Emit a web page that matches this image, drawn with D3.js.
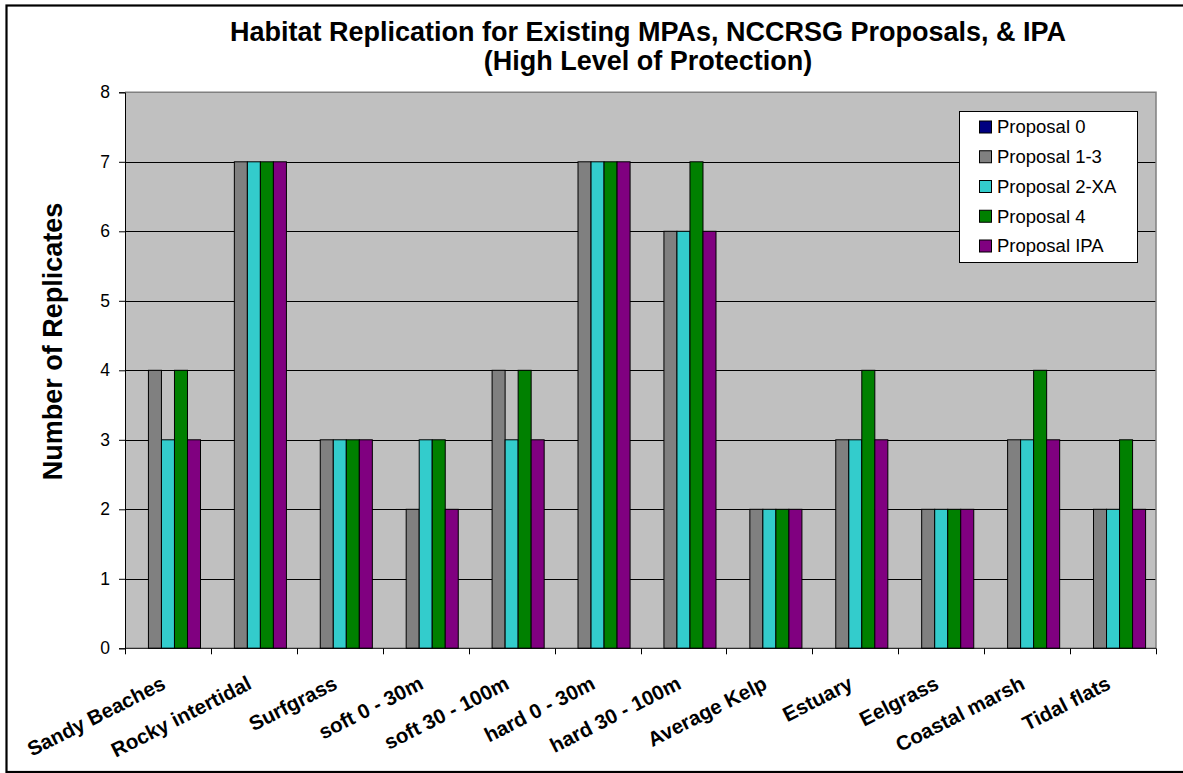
<!DOCTYPE html>
<html>
<head>
<meta charset="utf-8">
<script src="https://cdn.jsdelivr.net/npm/d3@7"></script>
<style>
  html, body { margin: 0; padding: 0; background: #fff; }
  svg { display: block; font-family: Arial, "Liberation Sans", sans-serif; }
</style>
</head>
<body>
<svg id="chart" width="1183" height="773"></svg>
<script>
// Habitat categories along the x axis
const categories = [
  "Sandy Beaches", "Rocky intertidal", "Surfgrass", "soft 0 - 30m",
  "soft 30 - 100m", "hard 0 - 30m", "hard 30 - 100m", "Average Kelp",
  "Estuary", "Eelgrass", "Coastal marsh", "Tidal flats"
];

// Series names (legend order)
const seriesNames = ["Proposal 0", "Proposal 1-3", "Proposal 2-XA", "Proposal 4", "Proposal IPA"];
const seriesColors = ["#000080", "#808080", "#33CCCC", "#008000", "#800080"];

// Number of replicates per habitat, one array per proposal
const proposal0   = [0, 0, 0, 0, 0, 0, 0, 0, 0, 0, 0, 0];
const proposal13  = [4, 7, 3, 2, 4, 7, 6, 2, 3, 2, 3, 2];
const proposal2XA = [3, 7, 3, 3, 3, 7, 6, 2, 3, 2, 3, 2];
const proposal4   = [4, 7, 3, 3, 4, 7, 7, 2, 4, 2, 4, 3];
const proposalIPA = [3, 7, 3, 2, 3, 7, 6, 2, 3, 2, 3, 2];

const yTicks = [0, 1, 2, 3, 4, 5, 6, 7, 8];

const seriesValues = [proposal0, proposal13, proposal2XA, proposal4, proposalIPA];

const svg = d3.select("#chart");

// Plot area
const plot = { left: 125, right: 1156, top: 92.3, bottom: 648.3 };

const x0 = d3.scaleBand().domain(categories).range([plot.left, plot.right]).padding(0);
const x1 = d3.scaleBand().domain(seriesNames).range([0, x0.bandwidth()])
  .paddingInner(0).paddingOuter(0.8);
const y = d3.scaleLinear().domain([0, 8]).range([plot.bottom, plot.top]);

// Outer chart frame (right side runs past the edge)
svg.append("rect")
  .attr("x", 6.5).attr("y", 5.5)
  .attr("width", 1200).attr("height", 766.5)
  .attr("fill", "#fff").attr("stroke", "#000").attr("stroke-width", 2.2);

// Title
const title = svg.append("text")
  .attr("text-anchor", "middle")
  .attr("font-weight", "bold")
  .attr("font-size", 27)
  .attr("fill", "#000");
title.append("tspan").attr("x", 648).attr("y", 41)
  .text("Habitat Replication for Existing MPAs, NCCRSG Proposals, & IPA");
title.append("tspan").attr("x", 648).attr("y", 70)
  .text("(High Level of Protection)");

// Plot background
svg.append("rect")
  .attr("x", plot.left).attr("y", plot.top)
  .attr("width", plot.right - plot.left).attr("height", plot.bottom - plot.top)
  .attr("fill", "#C0C0C0");

// Horizontal gridlines
svg.append("g")
  .selectAll("line")
  .data(yTicks.filter(d => d > 0 && d < 8))
  .join("line")
  .attr("x1", plot.left).attr("x2", plot.right)
  .attr("y1", d => Math.round(y(d)) + 0.5).attr("y2", d => Math.round(y(d)) + 0.5)
  .attr("stroke", "#000").attr("stroke-width", 1);

// Plot border (top and right)
svg.append("path")
  .attr("d", `M${plot.left},${plot.top}H${plot.right}V${plot.bottom}`)
  .attr("fill", "none").attr("stroke", "#808080").attr("stroke-width", 1.5);

// Bars
const groups = svg.append("g")
  .selectAll("g")
  .data(categories)
  .join("g")
  .attr("transform", d => `translate(${x0(d)},0)`);

groups.selectAll("rect")
  .data((c, i) => seriesNames.map((s, k) => ({ s, k, v: seriesValues[k][i] })))
  .join("rect")
  .filter(d => d.v > 0)
  .attr("x", d => x1(d.s))
  .attr("y", d => y(d.v))
  .attr("width", x1.bandwidth())
  .attr("height", d => y(0) - y(d.v))
  .attr("fill", d => seriesColors[d.k])
  .attr("stroke", "#000").attr("stroke-width", 1);

// Y axis
const yAxis = svg.append("g")
  .attr("transform", `translate(${plot.left},0)`)
  .call(d3.axisLeft(y).tickValues(yTicks).tickSize(6).tickPadding(9).tickFormat(d3.format("d")));
yAxis.select(".domain").attr("stroke", "#000");
yAxis.selectAll(".tick line").attr("stroke", "#000");
yAxis.selectAll(".tick text")
  .attr("font-size", 17.5).attr("font-family", "Arial, 'Liberation Sans', sans-serif").attr("fill", "#000");

// X axis: ticks at category boundaries
const xAxis = svg.append("g")
  .attr("transform", `translate(0,${plot.bottom})`);
xAxis.append("line")
  .attr("x1", plot.left).attr("x2", plot.right)
  .attr("stroke", "#000");
const boundaries = categories.map(c => x0(c)).concat([x0(categories[categories.length - 1]) + x0.bandwidth()]);
xAxis.selectAll("line.tick")
  .data(boundaries)
  .join("line")
  .attr("class", "tick")
  .attr("x1", d => Math.round(d) + 0.5).attr("x2", d => Math.round(d) + 0.5)
  .attr("y1", 0).attr("y2", 6)
  .attr("stroke", "#000");

// Rotated category labels
svg.append("g")
  .selectAll("text")
  .data(categories)
  .join("text")
  .attr("transform", d => `translate(${x0(d) + x0.bandwidth() / 2 - 1},688) rotate(-27)`)
  .attr("text-anchor", "end")
  .attr("font-weight", "bold")
  .attr("font-size", 20.5)
  .attr("fill", "#000")
  .text(d => d);

// Y axis title
svg.append("text")
  .attr("transform", "translate(62,341.5) rotate(-90)")
  .attr("text-anchor", "middle")
  .attr("font-weight", "bold")
  .attr("font-size", 27)
  .attr("fill", "#000")
  .text("Number of Replicates");

// Legend
const legend = svg.append("g");
legend.append("rect")
  .attr("x", 959.5).attr("y", 111.5)
  .attr("width", 178).attr("height", 151)
  .attr("fill", "#fff").attr("stroke", "#000").attr("stroke-width", 1);
const legendY = d3.scalePoint().domain(seriesNames).range([127, 246]);
const items = legend.selectAll("g.item")
  .data(seriesNames)
  .join("g")
  .attr("class", "item")
  .attr("transform", d => `translate(0,${legendY(d)})`);
items.append("rect")
  .attr("x", 979.5).attr("y", -6)
  .attr("width", 12).attr("height", 12)
  .attr("fill", (d, i) => seriesColors[i])
  .attr("stroke", "#000").attr("stroke-width", 1);
items.append("text")
  .attr("x", 997)
  .attr("y", 0)
  .attr("dy", "0.35em")
  .attr("font-size", 18.5)
  .attr("fill", "#000")
  .text(d => d);
</script>
</body>
</html>
